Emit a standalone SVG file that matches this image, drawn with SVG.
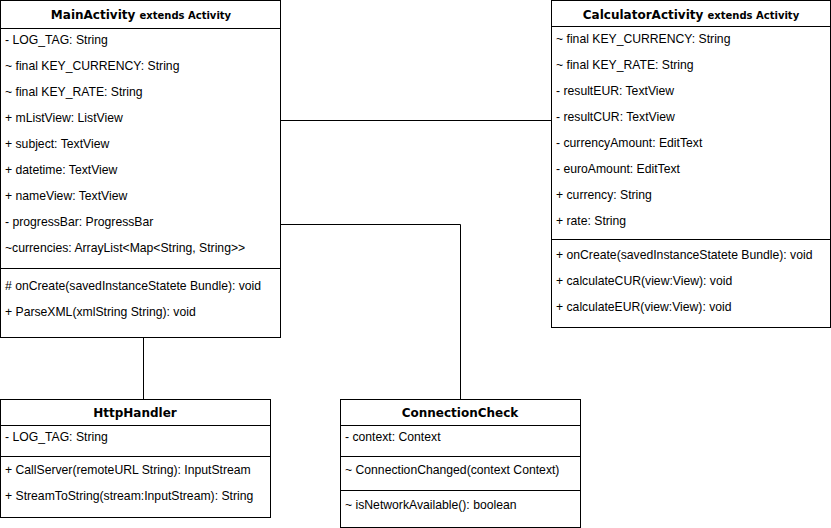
<svg xmlns="http://www.w3.org/2000/svg" width="831" height="528" viewBox="0 0 831 528">
<style>
.box{fill:#fff;stroke:#000;stroke-width:1}
.sep{stroke:#000;stroke-width:1;fill:none}
.t{font-family:"Liberation Sans",Arial,sans-serif;font-size:12.2px;fill:#000}
.h{font-family:"DejaVu Sans",Verdana,sans-serif;font-size:12px;font-weight:bold;fill:#000;text-anchor:middle}
.s{font-size:10px}
.c{stroke:#000;stroke-width:1;fill:none}
</style>
<rect width="831" height="528" fill="#fff"/>
<g id="connectors">
<path class="c" d="M280.5 120.5H551.5"/>
<path class="c" d="M280.5 224.5H460.5V399.5"/>
<path class="c" d="M143.5 337.5V399.5"/>
</g>
<g id="MainActivity">
<rect class="box" x="0.5" y="0.5" width="280" height="337"/>
<path class="sep" d="M0.5 28.5H280.5M0.5 268.5H280.5"/>
<text class="h" x="141" y="19">MainActivity <tspan class="s">extends Activity</tspan></text>
<text class="t" x="5" y="44">- LOG_TAG: String</text>
<text class="t" x="5" y="70">~ final KEY_CURRENCY: String</text>
<text class="t" x="5" y="96">~ final KEY_RATE: String</text>
<text class="t" x="5" y="122">+ mListView: ListView</text>
<text class="t" x="5" y="148">+ subject: TextView</text>
<text class="t" x="5" y="174">+ datetime: TextView</text>
<text class="t" x="5" y="200">+ nameView: TextView</text>
<text class="t" x="5" y="226">- progressBar: ProgressBar</text>
<text class="t" x="5" y="252">~currencies: ArrayList&lt;Map&lt;String, String&gt;&gt;</text>
<text class="t" x="5" y="290"># onCreate(savedInstanceStatete Bundle): void</text>
<text class="t" x="5" y="316">+ ParseXML(xmlString String): void</text>
</g>
<g id="CalculatorActivity">
<rect class="box" x="551.5" y="0.5" width="279" height="327"/>
<path class="sep" d="M551.5 26.5H830.5M551.5 239.5H830.5"/>
<text class="h" x="691" y="19">CalculatorActivity <tspan class="s">extends Activity</tspan></text>
<text class="t" x="556" y="43">~ final KEY_CURRENCY: String</text>
<text class="t" x="556" y="69">~ final KEY_RATE: String</text>
<text class="t" x="556" y="95">- resultEUR: TextView</text>
<text class="t" x="556" y="121">- resultCUR: TextView</text>
<text class="t" x="556" y="147">- currencyAmount: EditText</text>
<text class="t" x="556" y="173">- euroAmount: EditText</text>
<text class="t" x="556" y="199">+ currency: String</text>
<text class="t" x="556" y="225">+ rate: String</text>
<text class="t" x="556" y="259">+ onCreate(savedInstanceStatete Bundle): void</text>
<text class="t" x="556" y="285">+ calculateCUR(view:View): void</text>
<text class="t" x="556" y="311">+ calculateEUR(view:View): void</text>
</g>
<g id="HttpHandler">
<rect class="box" x="0.5" y="399.5" width="270" height="118"/>
<path class="sep" d="M0.5 425.5H270.5M0.5 456.5H270.5"/>
<text class="h" x="135" y="417">HttpHandler</text>
<text class="t" x="5" y="441">- LOG_TAG: String</text>
<text class="t" x="5" y="474">+ CallServer(remoteURL String): InputStream</text>
<text class="t" x="5" y="500">+ StreamToString(stream:InputStream): String</text>
</g>
<g id="ConnectionCheck">
<rect class="box" x="340.5" y="399.5" width="240" height="128"/>
<path class="sep" d="M340.5 425.5H580.5M340.5 456.5H580.5M340.5 490.5H580.5"/>
<text class="h" x="460" y="417">ConnectionCheck</text>
<text class="t" x="345" y="441">- context: Context</text>
<text class="t" x="345" y="474">~ ConnectionChanged(context Context)</text>
<text class="t" x="345" y="509">~ isNetworkAvailable(): boolean</text>
</g>
</svg>
